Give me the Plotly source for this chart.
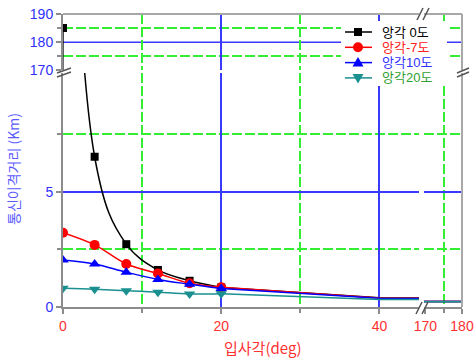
import plotly.graph_objects as go

# ---- data -------------------------------------------------------------
angles = [0, 4, 8, 12, 16, 20]            # 입사각 with markers
tail_angles = [20, 40, 170, 180]          # continuation without markers

elev_0 = [185, 6.53, 2.73, 1.61, 1.14, 0.85]
elev_m7 = [3.23, 2.70, 1.87, 1.46, 1.03, 0.86]
elev_10 = [2.04, 1.87, 1.51, 1.20, 0.99, 0.80]
elev_20 = [0.81, 0.77, 0.71, 0.64, 0.57, 0.58]

tail_0 = [0.85, 0.40, 0.24, 0.24]
tail_m7 = [0.86, 0.39, 0.24, 0.24]
tail_10 = [0.80, 0.38, 0.24, 0.24]
tail_20 = [0.58, 0.33, 0.23, 0.23]

series_names = ["앙각 0도", "앙각-7도", "앙각10도", "앙각20도"]
series_colors = ["#000000", "#ff0000", "#0000ff", "#1a9090"]
label_colors = ["#000000", "#ff2020", "#3030ff", "#30a030"]
symbols = ["square", "circle", "triangle-up", "triangle-down"]
marker_sizes = [8, 10, 10, 10]

x_ticks_left = [0, 20, 40]
x_ticks_right = [170, 180]
y_ticks_low = [0, 5]
y_ticks_high = [170, 180, 190]

# ---- geometry (figure pixels) ----------------------------------------
W, H = 474, 361

def px(x):
    return x / W

def py(y):
    return 1 - y / H

x_left_dom = [px(63), px(419)]
x_right_dom = [px(424), px(462)]
y_low_dom = [py(307), py(73)]
y_high_dom = [py(70.3), py(14)]

AXIS = "#8c8c8c"
GRID_MAJOR = "#3a3aff"
GRID_MINOR = "#33ee33"
TICK_FONT = "Liberation Sans, Arial, sans-serif"
KR_FONT = "Liberation Sans, Noto Sans CJK KR, sans-serif"

fig = go.Figure()

pairs = [(angles, elev_0, tail_angles, tail_0),
         (angles, elev_m7, tail_angles, tail_m7),
         (angles, elev_10, tail_angles, tail_10),
         (angles, elev_20, tail_angles, tail_20)]

for i, (xa, ya, xt, yt) in enumerate(pairs):
    col = series_colors[i]
    marker = dict(symbol=symbols[i], size=marker_sizes[i], color=col)
    spline = dict(color=col, width=1.5, shape="spline", smoothing=1)
    straight = dict(color=col, width=1.5)
    for yax in ("y", "y2"):
        # marked segment (left panel)
        fig.add_trace(go.Scatter(x=xa, y=ya, xaxis="x", yaxis=yax,
                                 mode="lines+markers", line=spline,
                                 marker=marker, showlegend=False))
        # continuation through the broken x range
        for xax in ("x", "x2"):
            fig.add_trace(go.Scatter(x=xt, y=yt, xaxis=xax, yaxis=yax,
                                     mode="lines", line=straight,
                                     showlegend=False, hoverinfo="skip"))

common_axis = dict(showline=True, linecolor=AXIS, linewidth=2,
                   ticks="outside", ticklen=5, tickwidth=1.5, tickcolor=AXIS,
                   zeroline=False, fixedrange=True, automargin=False)
minor_grid = dict(ticks="outside", ticklen=4, tickcolor=AXIS, tickwidth=1.5,
                  showgrid=True, gridcolor=GRID_MINOR, gridwidth=1.5,
                  griddash="10px,3px")
x_font = dict(family=TICK_FONT, size=14, color="#ff3030")
y_font = dict(family=TICK_FONT, size=14, color="#3030ff")

fig.update_layout(
    width=W, height=H,
    margin=dict(l=0, r=0, t=0, b=0),
    paper_bgcolor="white", plot_bgcolor="white",
    showlegend=False,
    xaxis=dict(domain=x_left_dom, range=[0, 45], anchor="y",
               tickvals=x_ticks_left, showgrid=True, gridcolor=GRID_MAJOR,
               gridwidth=1.5, tickfont=x_font,
               minor=dict(tickvals=[10, 30], **minor_grid), **common_axis),
    xaxis2=dict(domain=x_right_dom, range=[169.6, 180], anchor="y",
                tickvals=x_ticks_right, showgrid=False, tickfont=x_font,
                minor=dict(tickvals=[175], **minor_grid), **common_axis),
    yaxis=dict(domain=y_low_dom, range=[0, 10.17], anchor="x",
               tickvals=y_ticks_low, showgrid=True, gridcolor=GRID_MAJOR,
               gridwidth=1.5, tickfont=y_font,
               minor=dict(tickvals=[2.5, 7.5], **minor_grid), **common_axis),
    yaxis2=dict(domain=y_high_dom, range=[170, 190], anchor="x",
                tickvals=y_ticks_high, showgrid=False, tickfont=y_font,
                minor=dict(tickvals=[175, 185], **minor_grid), **common_axis),
)

shapes = []
# major grid line of the upper panel
for xd in ("x domain", "x2 domain"):
    shapes.append(dict(type="line", xref=xd, yref="y2", x0=0, x1=1,
                       y0=180, y1=180, layer="below",
                       line=dict(color=GRID_MAJOR, width=1.5)))

# frame: top and right borders of the panels
for xd in ("x domain", "x2 domain"):
    shapes.append(dict(type="line", xref=xd, yref="y2 domain",
                       x0=0, x1=1, y0=1, y1=1,
                       line=dict(color="#a8a8a8", width=2)))
for yd in ("y domain", "y2 domain"):
    shapes.append(dict(type="line", xref="x2 domain", yref=yd,
                       x0=1, x1=1, y0=0, y1=1,
                       line=dict(color="#a8a8a8", width=2)))

# axis-break marks
def slash_pair(cx, cy, dx, dy, off_x, off_y):
    out = []
    for s in (-1, 1):
        ox, oy = s * off_x / 2, s * off_y / 2
        out.append(dict(type="line", xref="paper", yref="paper",
                        x0=px(cx + ox - dx), y0=py(cy + oy + dy),
                        x1=px(cx + ox + dx), y1=py(cy + oy - dy),
                        line=dict(color="#555555", width=1.5)))
    return out

shapes += slash_pair(64, 72.5, 7, 2.5, 0, 4)     # left y break
shapes += slash_pair(463, 72.5, 6, 2.5, 0, 4)    # right y break
shapes += slash_pair(422, 308, 3, 6, 6, 0)       # bottom x break
shapes += slash_pair(423, 14, 3, 6, 6, 0)        # top x break

# legend box (drawn by hand to get the compact row spacing)
leg_left, leg_top, row_h = 341, 21, 15.3
shapes.append(dict(type="rect", xref="paper", yref="paper",
                   x0=px(leg_left), x1=px(447), y0=py(leg_top), y1=py(86),
                   fillcolor="white", line=dict(width=0)))
annotations = []
for i in range(4):
    cy = 32 + row_h * i
    col = series_colors[i]
    shapes.append(dict(type="line", xref="paper", yref="paper",
                       x0=px(345), x1=px(372), y0=py(cy), y1=py(cy),
                       line=dict(color=col, width=1.5)))
    cx, s = 358, marker_sizes[i]
    sym = symbols[i]
    if sym == "square":
        shapes.append(dict(type="rect", xref="paper", yref="paper",
                           x0=px(cx - s / 2), x1=px(cx + s / 2),
                           y0=py(cy - s / 2), y1=py(cy + s / 2),
                           fillcolor=col, line=dict(width=0)))
    elif sym == "circle":
        shapes.append(dict(type="circle", xref="paper", yref="paper",
                           x0=px(cx - s / 2), x1=px(cx + s / 2),
                           y0=py(cy - s / 2), y1=py(cy + s / 2),
                           fillcolor=col, line=dict(width=0)))
    else:
        sgn = -1 if sym == "triangle-up" else 1
        apex = (cx, cy + sgn * s * 0.55)
        b1 = (cx - s * 0.55, cy - sgn * s * 0.4)
        b2 = (cx + s * 0.55, cy - sgn * s * 0.4)
        path = "M {} {} L {} {} L {} {} Z".format(
            px(apex[0]), py(apex[1]), px(b1[0]), py(b1[1]),
            px(b2[0]), py(b2[1]))
        shapes.append(dict(type="path", xref="paper", yref="paper",
                           path=path, fillcolor=col, line=dict(width=0)))
    annotations.append(dict(text=series_names[i], x=px(380), y=py(cy),
                            xref="paper", yref="paper", xanchor="left",
                            yanchor="middle", showarrow=False,
                            font=dict(family=KR_FONT, size=13,
                                      color=label_colors[i])))

# axis titles
annotations.append(dict(text="입사각(deg)", x=px(262), y=py(347),
                        xref="paper", yref="paper", showarrow=False,
                        xanchor="center", yanchor="middle",
                        font=dict(family="Noto Sans CJK KR, sans-serif",
                                  size=15, color="#ff3030")))
annotations.append(dict(text="통신이격거리 (Km)", x=px(13), y=py(169),
                        xref="paper", yref="paper", showarrow=False,
                        xanchor="center", yanchor="middle", textangle=-90,
                        font=dict(family="Noto Sans CJK KR, sans-serif",
                                  size=14, color="#5a5aff")))

fig.update_layout(shapes=shapes, annotations=annotations)

fig.write_html("out.html")
